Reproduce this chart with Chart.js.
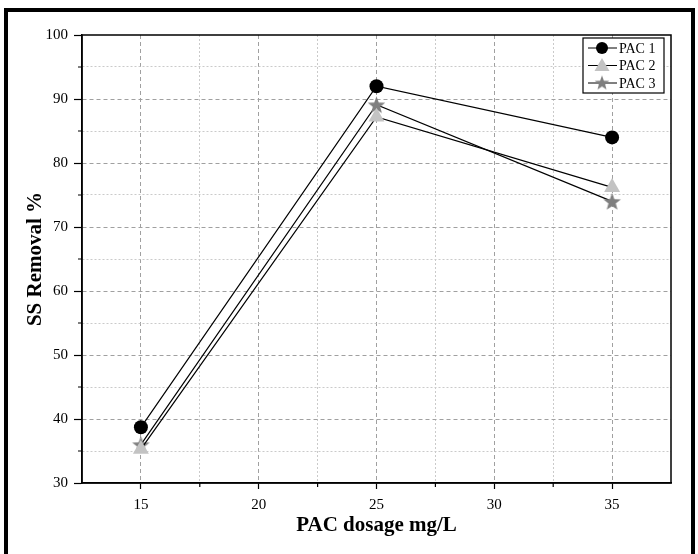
<!DOCTYPE html>
<html>
<head>
<meta charset="utf-8">
<script src="https://cdn.jsdelivr.net/npm/chart.js@4.4.1/dist/chart.umd.min.js"></script>
<style>
  html, body { margin: 0; padding: 0; background: #fff; overflow: hidden; }
  #frame { position: absolute; left: 4px; top: 8px; width: 691px; height: 620px; border: 4px solid #000; box-sizing: border-box; }
  #wrap { position: absolute; left: 0; top: 0; width: 698px; height: 554px; }
</style>
</head>
<body>
<div id="frame"></div>
<div id="wrap"><canvas id="chart" width="698" height="554"></canvas></div>
<script>
// data
const dosages = [15, 25, 35];
const pac1 = [38.7, 92, 84];
const pac2 = [35.3, 87.2, 76.2];
const pac3 = [36, 89.1, 74];
const seriesNames = ["PAC 1", "PAC 2", "PAC 3"];
const xTicks = [15, 20, 25, 30, 35];
const yTicks = [30, 40, 50, 60, 70, 80, 90, 100];

const serif = "'Liberation Serif', 'Times New Roman', serif";

// filled five point star used as a marker
const makeStar = (size, color) => {
    const c = document.createElement("canvas");
    c.width = size; c.height = size;
    const g = c.getContext("2d");
    const cx = size / 2, cy = size / 2 + 0.8;
    const outer = size / 2 - 0.3, inner = outer * 0.42;
    g.beginPath();
    for (let i = 0; i < 10; i++) {
        const r = i % 2 === 0 ? outer : inner;
        const a = -Math.PI / 2 + i * Math.PI / 5;
        g.lineTo(cx + r * Math.cos(a), cy + r * Math.sin(a));
    }
    g.closePath();
    g.fillStyle = color;
    g.fill();
    return c;
};
const starImg = makeStar(19, "#7f7f7f");
const starSmall = makeStar(16, "#7f7f7f");

const toPoints = (ys) => dosages.map((x, i) => ({ x: x, y: ys[i] }));

// box around the plot + short minor ticks
const framePlugin = {
    id: "framePlugin",
    afterDraw(chart) {
        const { ctx, chartArea: a, scales } = chart;
        ctx.save();
        ctx.strokeStyle = "#000";
        ctx.lineWidth = 1.5;
        ctx.strokeRect(a.left, a.top, a.right - a.left, a.bottom - a.top);
        ctx.lineWidth = 1.2;
        ctx.beginPath();
        for (let v = 17.5; v < 37.5; v += 5) {
            const px = scales.x.getPixelForValue(v);
            ctx.moveTo(px, a.bottom); ctx.lineTo(px, a.bottom + 4);
        }
        for (let v = 35; v < 100; v += 10) {
            const py = scales.y.getPixelForValue(v);
            ctx.moveTo(a.left, py); ctx.lineTo(a.left - 4, py);
        }
        ctx.stroke();
        ctx.restore();
    }
};

// legend box inside the top right corner
const legendPlugin = {
    id: "legendPlugin",
    afterDraw(chart) {
        const { ctx, chartArea: a } = chart;
        const bx = a.right - 88, by = a.top + 3, bw = 81, bh = 55;
        ctx.save();
        ctx.fillStyle = "#fff";
        ctx.fillRect(bx, by, bw, bh);
        ctx.strokeStyle = "#000";
        ctx.lineWidth = 1.2;
        ctx.strokeRect(bx, by, bw, bh);
        ctx.font = "14px " + serif;
        ctx.textBaseline = "middle";
        seriesNames.forEach((name, i) => {
            const y = by + 10 + i * 17.5;
            ctx.strokeStyle = "#000";
            ctx.lineWidth = 1;
            ctx.beginPath();
            ctx.moveTo(bx + 5, y); ctx.lineTo(bx + 34, y);
            ctx.stroke();
            const mx = bx + 19;
            if (i === 0) {
                ctx.fillStyle = "#000";
                ctx.beginPath(); ctx.arc(mx, y, 6, 0, Math.PI * 2); ctx.fill();
            } else if (i === 1) {
                ctx.fillStyle = "#c3c3c3";
                ctx.beginPath();
                ctx.moveTo(mx, y - 7.5); ctx.lineTo(mx + 7.5, y + 5.5); ctx.lineTo(mx - 7.5, y + 5.5);
                ctx.closePath(); ctx.fill();
            } else {
                ctx.drawImage(starSmall, mx - 8, y - 8.5);
            }
            ctx.fillStyle = "#000";
            ctx.fillText(name, bx + 36, y + 1);
        });
        ctx.restore();
    }
};

const isMajorX = (v) => Math.abs(v % 5) < 1e-6;
const isMajorY = (v) => Math.abs(v % 10) < 1e-6;

new Chart(document.getElementById("chart"), {
    type: "line",
    data: {
        datasets: [
            {
                label: seriesNames[0],
                data: toPoints(pac1),
                borderColor: "#000",
                borderWidth: 1.2,
                pointStyle: "circle",
                pointRadius: 7,
                pointBackgroundColor: "#000",
                pointBorderColor: "#000",
                pointBorderWidth: 0
            },
            {
                label: seriesNames[1],
                data: toPoints(pac2),
                borderColor: "#000",
                borderWidth: 1.2,
                pointStyle: "triangle",
                pointRadius: 9.2,
                pointBackgroundColor: "#c3c3c3",
                pointBorderColor: "#c3c3c3",
                pointBorderWidth: 0
            },
            {
                label: seriesNames[2],
                data: toPoints(pac3),
                borderColor: "#000",
                borderWidth: 1.2,
                pointStyle: starImg,
                pointRadius: 9
            }
        ]
    },
    options: {
        responsive: false,
        animation: false,
        layout: { padding: { left: 0, top: 35, right: 27, bottom: 0 } },
        plugins: {
            legend: { display: false },
            tooltip: { enabled: false }
        },
        scales: {
            x: {
                type: "linear",
                min: 12.5,
                max: 37.5,
                afterBuildTicks: (scale) => {
                    const t = [];
                    for (let v = 12.5; v <= 37.5 + 1e-6; v += 2.5) t.push({ value: v });
                    scale.ticks = t;
                },
                afterFit: (scale) => { scale.height = 71; },
                ticks: {
                    autoSkip: false,
                    maxRotation: 0,
                    padding: 7,
                    color: "#000",
                    font: { family: serif, size: 15 },
                    callback: (v) => xTicks.includes(v) ? String(v) : ""
                },
                grid: {
                    drawTicks: true,
                    tickLength: 6,
                    lineWidth: 1,
                    tickWidth: 1.2,
                    color: (c) => {
                        if (!c.tick) return "#000";
                        const v = c.tick.value;
                        if (v <= 12.5 || v >= 37.5) return "rgba(0,0,0,0)";
                        return isMajorX(v) ? "#a0a0a0" : "#cacaca";
                    },
                    tickColor: (c) => c.tick && xTicks.includes(c.tick.value) ? "#000" : "rgba(0,0,0,0)"
                },
                border: {
                    color: "#000",
                    width: 1.5,
                    dash: (c) => c.tick ? (isMajorX(c.tick.value) ? [4, 3] : [2, 2]) : []
                },
                title: {
                    display: true,
                    text: "PAC dosage mg/L",
                    color: "#000",
                    font: { family: serif, size: 21, weight: "bold" },
                    padding: { top: 0, bottom: 16 }
                }
            },
            y: {
                min: 30,
                max: 100,
                afterBuildTicks: (scale) => {
                    const t = [];
                    for (let v = 30; v <= 100; v += 5) t.push({ value: v });
                    scale.ticks = t;
                },
                afterFit: (scale) => { scale.width = 82; },
                ticks: {
                    autoSkip: false,
                    padding: 6,
                    color: "#000",
                    font: { family: serif, size: 15 },
                    callback: (v) => yTicks.includes(v) ? String(v) : ""
                },
                grid: {
                    drawTicks: true,
                    tickLength: 8,
                    lineWidth: 1,
                    tickWidth: 1.2,
                    color: (c) => {
                        if (!c.tick) return "#000";
                        const v = c.tick.value;
                        if (v <= 30 || v >= 100) return "rgba(0,0,0,0)";
                        return isMajorY(v) ? "#a0a0a0" : "#cacaca";
                    },
                    tickColor: (c) => c.tick && yTicks.includes(c.tick.value) ? "#000" : "rgba(0,0,0,0)"
                },
                border: {
                    color: "#000",
                    width: 1.5,
                    dash: (c) => c.tick ? (isMajorY(c.tick.value) ? [4, 3] : [2, 2]) : []
                },
                title: {
                    display: true,
                    text: "SS Removal %",
                    color: "#000",
                    font: { family: serif, size: 21, weight: "bold" },
                    padding: { top: 23, bottom: 0 }
                }
            }
        }
    },
    plugins: [framePlugin, legendPlugin]
});
</script>
</body>
</html>
